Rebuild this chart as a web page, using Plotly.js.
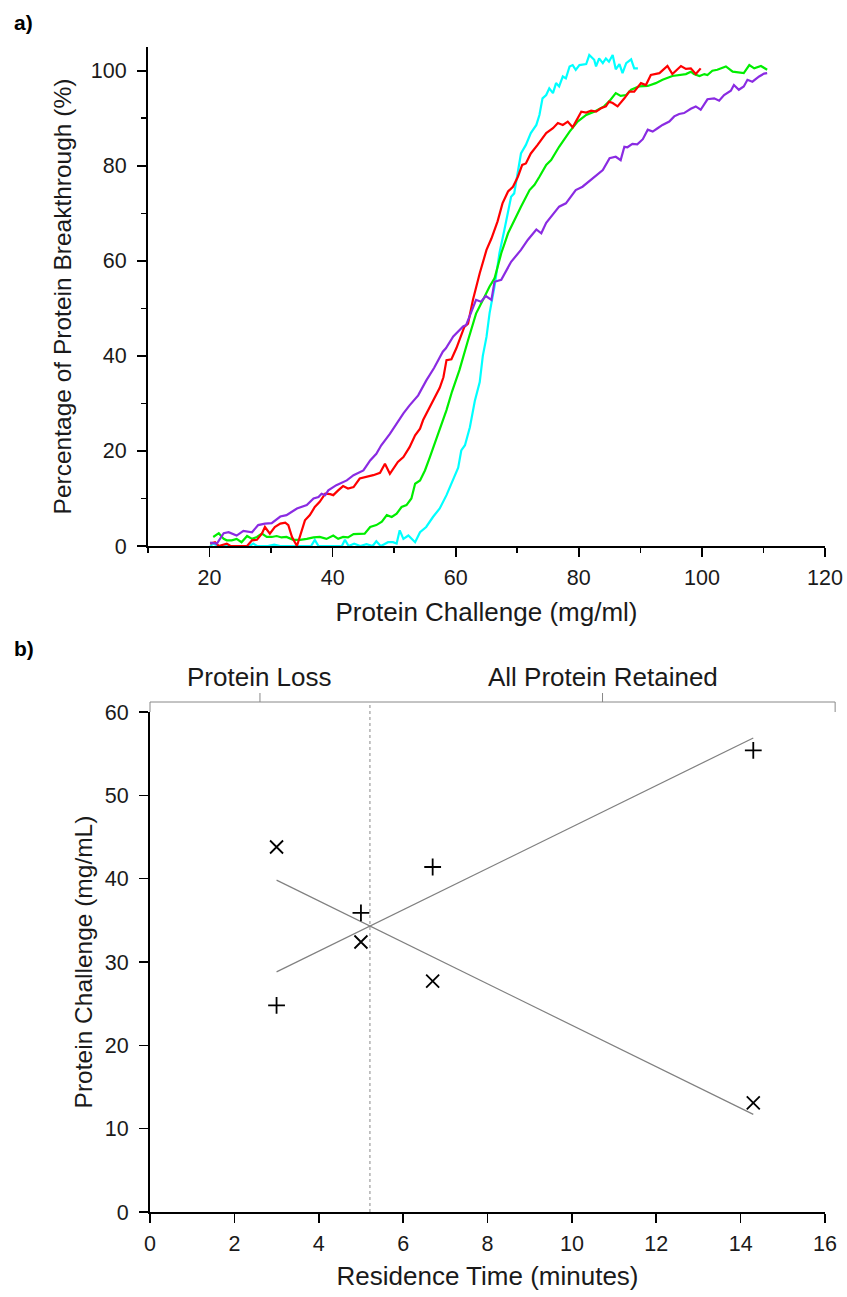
<!DOCTYPE html>
<html>
<head>
<meta charset="utf-8">
<script src="https://cdn.plot.ly/plotly-3.0.1.min.js"></script>
<style>html,body{margin:0;padding:0;background:#fff;}#chart{width:847px;height:1297px;}</style>
</head>
<body>
<div id="chart"></div>
<script>
// ---------- Panel a) breakthrough curves ----------
const cyanX = [20.1,20.6,21.5,22.5,23.5,24.5,25.5,26.5,27.1,27.7,28.5,29.5,30.5,31.5,32.5,33.5,34.5,35.5,36.5,37.1,37.7,38.5,39.5,40.5,41.5,42.0,42.6,43.5,44.5,45.5,46.5,47.1,47.8,48.3,49.0,49.8,50.4,50.9,51.5,52.3,53.4,54.2,55.2,56.3,57.4,58.5,59.6,60.4,60.9,61.5,62.3,62.8,63.1,63.9,64.4,65.0,65.5,66.3,67.1,67.9,68.5,69.0,69.5,70.1,70.6,71.4,72.2,73.1,73.6,74.1,74.7,75.2,75.8,76.3,76.8,77.4,77.9,78.5,79.0,79.5,80.1,81.2,81.7,82.5,82.8,83.3,83.9,84.4,84.9,85.5,86.0,86.6,87.1,87.7,88.5,89.0,89.6];
const cyanY = [0,0.5,0,0,0,0,0,0,0.5,0,0,0,0.3,0,0,0,0,0,0,1.3,0,0,0,0,0,1.3,0,0.5,0,0.4,0,1.0,0,0.3,0.8,0.8,0.5,3.3,1.5,2.2,0.8,2.9,4.0,6.1,7.9,10.7,14.0,16.5,20.1,21.2,25.0,28.0,30.5,34.5,40.0,44.0,49.0,54.6,61.6,66.5,70.0,73.5,74.2,78.8,82.6,84.4,86.9,88.6,90.7,94.2,94.9,96.3,95.3,97.4,96.7,98.8,98.4,100.9,101.2,100.2,101.2,101.4,103.3,102.3,100.9,102.6,101.6,102.6,101.9,103.3,100.3,101.4,99.5,101.6,102.4,100.5,100.5];

const redX = [20.1,20.9,21.5,22.8,23.4,26.1,26.9,27.7,28.5,29.0,29.8,30.6,31.5,32.3,32.8,33.4,34.2,34.7,35.5,36.3,37.1,37.9,38.8,39.6,40.1,40.9,41.7,42.5,43.4,44.4,45.5,46.6,47.7,48.5,49.3,50.6,51.5,52.5,53.4,54.2,54.7,55.8,56.6,57.4,58.0,58.5,59.3,60.1,61.4,62.0,62.8,63.9,65.0,65.8,66.8,67.6,68.5,69.3,70.1,70.8,71.4,72.2,73.3,74.7,75.8,76.6,77.4,78.2,79.0,80.4,81.2,82.0,82.8,83.6,84.4,84.9,85.5,86.3,87.4,88.2,89.0,89.8,90.1,90.9,91.7,93.1,94.4,95.2,96.6,97.4,98.2,99.0,99.8];
const redY = [0.5,0.8,0,0.5,0,0,1.2,1.3,2.6,4.0,2.6,4.0,4.7,4.9,4.4,1.9,0,1.9,5.4,6.5,8.2,9.3,11.0,10.9,10.7,11.7,12.6,12.1,12.4,14.2,14.5,14.9,15.4,17.3,15.2,17.7,18.7,20.8,23.3,24.7,26.5,29.3,31.4,33.3,35.5,39.1,39.3,41.6,46.1,46.8,51.8,57.4,62.3,64.7,68.3,72.1,74.6,75.6,77.7,80.2,80.5,82.6,84.4,86.9,87.9,89.0,88.6,89.3,88.1,91.4,91.2,91.6,91.4,92.1,92.5,93.5,93.2,92.5,94.2,95.6,95.6,97.0,97.4,97.0,99.1,99.5,101.0,99.3,101.0,100.4,100.5,99.3,100.5];

const greenX = [20.6,21.5,22.3,22.8,23.6,24.4,25.2,26.1,26.9,27.7,28.5,29.3,30.1,30.9,31.7,32.5,33.6,34.7,35.8,36.9,37.9,39.0,40.1,40.9,41.7,42.5,43.4,44.4,45.2,46.1,47.1,48.0,48.8,49.6,50.4,51.2,52.0,52.8,53.4,54.2,55.0,55.8,56.6,57.4,58.5,59.4,60.6,62.0,63.3,64.7,65.5,66.3,67.4,68.5,69.5,70.6,72.0,72.8,73.6,74.7,75.5,76.8,78.5,79.8,81.2,82.5,84.1,84.9,86.0,86.8,87.7,88.5,89.8,91.2,92.5,93.6,95.2,96.3,97.4,98.2,98.7,99.6,100.4,100.9,101.7,102.5,103.9,105.0,106.0,106.8,107.7,108.5,109.6,110.4,110.6];
const greenY = [1.9,2.7,1.5,1.2,1.2,1.5,0.8,2.1,1.5,1.9,2.6,1.9,1.9,2.1,1.8,1.9,1.3,1.3,1.5,1.8,1.9,1.5,2.2,1.5,1.9,1.8,2.5,2.5,2.6,4.0,4.4,5.1,6.5,6.1,6.8,8.2,8.6,10.0,13.1,13.8,15.9,18.7,21.5,24.7,28.6,32.5,37.0,43.3,48.9,52.5,54.6,56.3,61.6,65.8,68.6,71.4,74.9,76.0,77.7,80.2,81.2,84.0,87.2,89.3,90.7,91.4,92.5,93.5,95.3,94.7,94.9,96.0,96.7,96.8,97.4,98.1,98.9,99.1,99.3,99.8,99.3,98.9,99.3,99.1,100.0,100.2,100.9,99.8,99.6,99.5,101.2,100.5,101.0,100.3,100.2];

const purpleX = [20.1,21.2,22.3,23.1,24.4,25.5,26.9,27.9,29.0,30.1,31.5,32.5,34.2,35.8,36.9,37.7,38.2,38.8,39.3,40.6,42.3,43.4,45.0,46.1,47.1,47.9,49.3,50.4,51.5,52.5,53.9,55.2,56.5,57.9,58.4,59.6,61.2,61.7,62.8,63.3,64.1,64.9,65.8,66.3,67.4,69.0,70.6,71.7,73.1,73.9,74.7,76.8,77.9,79.5,80.6,82.3,83.9,85.0,86.0,86.8,87.4,87.9,88.7,89.5,90.4,91.2,92.0,92.8,93.6,94.7,95.5,96.3,97.1,98.2,99.0,99.8,100.9,102.0,102.8,103.6,104.7,105.2,106.0,106.8,107.4,108.2,109.3,110.1,110.6];
const purpleY = [0.7,0.5,2.7,2.9,2.2,3.2,2.9,4.4,4.7,4.8,6.2,6.5,7.9,8.6,10.0,10.3,11.0,10.7,11.7,12.8,13.8,14.9,15.9,18.0,19.4,21.2,23.6,25.8,27.9,29.6,31.7,34.8,37.5,40.9,41.6,44.1,46.2,46.5,50.4,51.8,51.4,52.6,51.8,55.6,56.0,59.8,62.3,64.4,66.6,65.8,68.0,71.4,72.1,74.9,75.6,77.4,79.1,81.6,81.9,81.2,84.0,83.9,84.6,84.5,85.6,87.6,87.2,87.9,88.6,89.3,90.4,90.9,91.1,92.0,92.5,91.8,94.0,94.2,93.7,94.9,95.8,97.0,96.0,96.7,98.1,97.7,98.8,99.4,99.5];

const topXTicks = [20,40,60,80,100,120];
const topYTicks = [0,20,40,60,80,100];

// ---------- Panel b) residence time ----------
const residenceTime = [3, 5, 6.7, 14.3];
const plusChallenge = [24.8, 35.9, 41.4, 55.4];
const crossChallenge = [43.8, 32.4, 27.7, 13.1];
const regionLabels = ['Protein Loss', 'All Protein Retained'];
const bottomXTicks = [0,2,4,6,8,10,12,14,16];
const bottomYTicks = [0,10,20,30,40,50,60];

function linfit(xs, ys){
  const n = xs.length;
  const mx = xs.reduce((a,b)=>a+b,0)/n, my = ys.reduce((a,b)=>a+b,0)/n;
  let sxx=0, sxy=0;
  for(let i=0;i<n;i++){sxx+=(xs[i]-mx)**2; sxy+=(xs[i]-mx)*(ys[i]-my);}
  const m = sxy/sxx; return {m:m, b:my-m*mx};
}
const fitPlus = linfit(residenceTime, plusChallenge);
const fitCross = linfit(residenceTime, crossChallenge);
const xFitEnds = [Math.min(...residenceTime), Math.max(...residenceTime)];
const xCross = (fitCross.b - fitPlus.b)/(fitPlus.m - fitCross.m);

// ---------- layout geometry ----------
const W = 847, H = 1297;
const ML = 148, MR = 22, MT = 47, MB = 85;
const PW = W-ML-MR, PH = H-MT-MB;
const pxX = px => (px-ML)/PW;          // page px -> paper x
const pxY = py => (H-MB-py)/PH;        // page px -> paper y
const xb0 = pxX(150), xb1 = pxX(825);  // bottom x-axis domain
const bx2paper = v => xb0 + (v-0)/16*(xb1-xb0);
const bracketTop = pxY(702), bracketEnd = 16.24;

const font = 'Arial, "Liberation Sans", sans-serif';
const ink = '#1a1a1a';
const lineW = 2.2;
const traces = [
  {x: cyanX, y: cyanY, mode:'lines', line:{color:'#00ffff', width:lineW}, xaxis:'x', yaxis:'y', showlegend:false},
  {x: greenX, y: greenY, mode:'lines', line:{color:'#00ee00', width:lineW}, xaxis:'x', yaxis:'y', showlegend:false},
  {x: redX, y: redY, mode:'lines', line:{color:'#ff0000', width:lineW}, xaxis:'x', yaxis:'y', showlegend:false},
  {x: purpleX, y: purpleY, mode:'lines', line:{color:'#8a2be2', width:lineW}, xaxis:'x', yaxis:'y', showlegend:false},
  {x: xFitEnds, y: xFitEnds.map(v=>fitPlus.b+fitPlus.m*v), mode:'lines', line:{color:'#808080', width:1.2}, xaxis:'x2', yaxis:'y2', showlegend:false},
  {x: xFitEnds, y: xFitEnds.map(v=>fitCross.b+fitCross.m*v), mode:'lines', line:{color:'#808080', width:1.2}, xaxis:'x2', yaxis:'y2', showlegend:false},
  {x: residenceTime, y: plusChallenge, mode:'markers', marker:{symbol:'cross-thin', size:12, color:'#000', line:{color:'#000', width:1.8}}, xaxis:'x2', yaxis:'y2', showlegend:false},
  {x: residenceTime, y: crossChallenge, mode:'markers', marker:{symbol:'x-thin', size:13, color:'#000', line:{color:'#000', width:1.8}}, xaxis:'x2', yaxis:'y2', showlegend:false}
];

const axBase = {showgrid:false, zeroline:false, showline:true, linecolor:'#000', linewidth:2,
  ticks:'outside', ticklen:9, tickwidth:1.6, tickcolor:'#000', tickfont:{family:font, size:21.5, color:ink}};
const minorTicks = {dtick:10, tick0:0, ticklen:5, tickwidth:1.6, tickcolor:'#000', ticks:'outside'};

const layout = {
  width: W, height: H, paper_bgcolor:'#fff', plot_bgcolor:'#fff',
  margin:{l:ML, r:MR, t:MT, b:MB},
  font:{family:font, color:ink},
  xaxis: Object.assign({}, axBase, {domain:[0,1], range:[10,120], tickvals:topXTicks, anchor:'y', minor:minorTicks, ticklabelstandoff:2,
    title:{text:'Protein Challenge (mg/ml)', font:{family:font, size:26, color:ink}, standoff:14}}),
  yaxis: Object.assign({}, axBase, {domain:[pxY(546),1], range:[0,105], tickvals:topYTicks, anchor:'x', minor:minorTicks, ticklabelstandoff:6,
    title:{text:'Percentage of Protein Breakthrough (%)', font:{family:font, size:24.5, color:ink}, standoff:12}}),
  xaxis2: Object.assign({}, axBase, {domain:[xb0,xb1], range:[0,16], tickvals:bottomXTicks, anchor:'y2', ticklabelstandoff:2,
    title:{text:'Residence Time (minutes)', font:{family:font, size:26, color:ink}, standoff:12}}),
  yaxis2: Object.assign({}, axBase, {domain:[0,pxY(712)], range:[0,60], tickvals:bottomYTicks, anchor:'x2', ticklabelstandoff:6,
    title:{text:'Protein Challenge (mg/mL)', font:{family:font, size:24.5, color:ink}, standoff:5}}),
  shapes: [
    {type:'line', xref:'x2', yref:'paper', x0:xCross, x1:xCross, y0:0, y1:bracketTop, line:{color:'#888', width:1, dash:'3px,3px'}},
    {type:'line', xref:'paper', yref:'paper', x0:bx2paper(0), x1:bx2paper(bracketEnd), y0:bracketTop, y1:bracketTop, line:{color:'#888', width:1}},
    {type:'line', xref:'paper', yref:'paper', x0:bx2paper(0), x1:bx2paper(0), y0:bracketTop, y1:pxY(712), line:{color:'#888', width:1}},
    {type:'line', xref:'paper', yref:'paper', x0:bx2paper(bracketEnd), x1:bx2paper(bracketEnd), y0:bracketTop, y1:pxY(712), line:{color:'#888', width:1}},
    {type:'line', xref:'paper', yref:'paper', x0:bx2paper(xCross/2), x1:bx2paper(xCross/2), y0:bracketTop, y1:pxY(693), line:{color:'#888', width:1}},
    {type:'line', xref:'paper', yref:'paper', x0:bx2paper((xCross+bracketEnd)/2), x1:bx2paper((xCross+bracketEnd)/2), y0:bracketTop, y1:pxY(693), line:{color:'#888', width:1}}
  ],
  annotations: [
    {text:'<b>a)</b>', xref:'paper', yref:'paper', x:pxX(12), y:pxY(22), xanchor:'left', yanchor:'middle', showarrow:false, font:{family:font, size:21, color:'#000'}},
    {text:'<b>b)</b>', xref:'paper', yref:'paper', x:pxX(12), y:pxY(648), xanchor:'left', yanchor:'middle', showarrow:false, font:{family:font, size:21, color:'#000'}},
    {text:regionLabels[0], xref:'paper', yref:'paper', x:bx2paper(xCross/2), y:pxY(677), xanchor:'center', yanchor:'middle', showarrow:false, font:{family:font, size:26, color:ink}},
    {text:regionLabels[1], xref:'paper', yref:'paper', x:bx2paper((xCross+bracketEnd)/2), y:pxY(677), xanchor:'center', yanchor:'middle', showarrow:false, font:{family:font, size:26, color:ink}}
  ]
};

Plotly.newPlot('chart', traces, layout, {staticPlot:true, displayModeBar:false});
</script>
</body>
</html>
